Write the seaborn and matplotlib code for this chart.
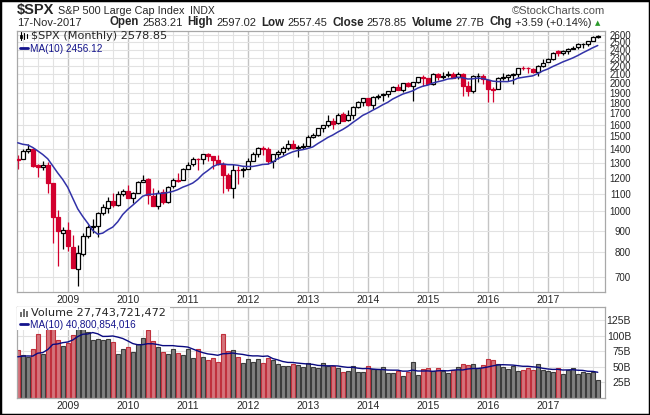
import numpy as np
import pandas as pd
import matplotlib
matplotlib.use("Agg")
import matplotlib.pyplot as plt
import seaborn as sns
from matplotlib.patches import Rectangle
from matplotlib.lines import Line2D
from matplotlib.ticker import NullLocator, NullFormatter

sns.set_style("white")
plt.rcParams['font.family'] = ['Liberation Sans', 'DejaVu Sans']

# ### Monthly $SPX bars, Mar 2008 .. Nov 2017
months = pd.date_range("2008-03-01", "2017-11-01", freq="MS")

opens = [1330.45, 1326.41, 1385.97, 1399.62, 1282.35, 1269.42, 1287.83, 1164.17, 968.67, 888.61,
         902.99, 823.09, 729.57, 793.59, 872.74, 923.26, 920.82, 990.22, 1019.52, 1054.91, 1036.18, 1098.89,
         1116.56, 1073.89, 1105.36, 1171.23, 1188.58, 1087.30, 1031.10, 1107.53, 1049.72, 1143.49, 1185.71, 1186.60,
         1257.62, 1289.14, 1328.64, 1329.48, 1365.21, 1345.20, 1320.64, 1292.59, 1219.12, 1131.21, 1251.00, 1246.91,
         1258.86, 1312.45, 1365.90, 1408.47, 1397.86, 1309.87, 1362.33, 1379.32, 1406.54, 1440.90, 1412.20, 1416.34,
         1426.19, 1497.86, 1514.68, 1569.18, 1597.55, 1631.71, 1609.78, 1689.42, 1635.95, 1682.41, 1758.70, 1806.55,
         1845.86, 1782.68, 1857.68, 1873.96, 1884.39, 1923.87, 1962.29, 1929.80, 2004.07, 1971.44, 2018.21, 2065.78,
         2058.90, 1996.67, 2105.23, 2067.63, 2087.38, 2108.64, 2065.78, 2104.49, 1970.09, 1919.65, 2080.76, 2082.93,
         2038.20, 1936.94, 1937.09, 2060.23, 2067.17, 2093.94, 2099.34, 2173.15, 2171.33, 2164.33, 2128.68, 2200.17,
         2251.57, 2285.59, 2380.13, 2362.34, 2388.50, 2415.65, 2431.39, 2477.10, 2474.42, 2521.20, 2583.21]
highs = [1359.68, 1404.57, 1440.24, 1404.05, 1292.20, 1313.15, 1303.04, 1167.03, 1007.51, 918.85,
         943.85, 877.86, 832.98, 888.70, 930.17, 956.23, 996.68, 1039.47, 1080.15, 1101.36, 1113.69, 1130.38,
         1150.45, 1112.42, 1180.16, 1219.80, 1200.26, 1131.23, 1120.95, 1129.24, 1148.90, 1196.14, 1227.08, 1262.60,
         1302.67, 1344.07, 1332.28, 1366.71, 1370.58, 1345.20, 1356.48, 1307.38, 1229.29, 1292.66, 1277.55, 1269.37,
         1333.47, 1378.04, 1419.15, 1422.38, 1415.32, 1363.46, 1391.74, 1426.68, 1474.51, 1470.96, 1434.27, 1448.00,
         1509.94, 1530.94, 1570.28, 1597.57, 1687.18, 1654.19, 1698.78, 1709.67, 1729.86, 1765.67, 1813.55, 1849.44,
         1850.84, 1867.92, 1883.97, 1897.28, 1924.03, 1968.17, 1991.39, 2005.04, 2019.26, 2018.19, 2075.76, 2093.55,
         2064.43, 2119.59, 2117.52, 2125.92, 2134.72, 2129.87, 2132.82, 2112.66, 2020.86, 2094.32, 2116.48, 2104.27,
         2038.20, 1962.96, 2072.21, 2111.05, 2103.48, 2120.55, 2177.09, 2193.81, 2187.87, 2169.60, 2214.10, 2277.53,
         2300.99, 2371.54, 2400.98, 2398.16, 2418.71, 2453.82, 2484.04, 2490.87, 2519.44, 2582.98, 2597.02]
lows = [1256.98, 1324.35, 1373.07, 1272.00, 1200.44, 1247.45, 1106.39, 839.80, 741.02, 815.69,
        804.30, 734.52, 666.79, 783.32, 866.10, 888.86, 869.32, 978.51, 991.97, 1020.18, 1029.38, 1085.89,
        1071.59, 1044.50, 1105.24, 1170.69, 1040.78, 1028.33, 1010.91, 1039.70, 1047.39, 1131.87, 1173.00, 1186.60,
        1257.62, 1275.92, 1249.05, 1294.70, 1311.80, 1258.07, 1282.86, 1101.54, 1114.22, 1074.77, 1158.66, 1202.37,
        1258.86, 1312.45, 1340.03, 1357.38, 1291.98, 1266.74, 1325.41, 1354.65, 1396.56, 1403.28, 1343.35, 1398.11,
        1426.19, 1485.01, 1501.48, 1536.03, 1581.28, 1560.33, 1604.57, 1627.47, 1633.41, 1646.47, 1746.20, 1767.99,
        1770.45, 1737.92, 1834.44, 1814.36, 1859.79, 1915.98, 1930.67, 1904.78, 1964.04, 1820.66, 2001.01, 1972.56,
        1988.12, 1980.90, 2039.69, 2048.38, 2067.93, 2056.32, 2044.02, 1867.01, 1871.91, 1893.70, 2019.39, 1993.26,
        1812.29, 1810.10, 1937.09, 2033.80, 2025.91, 1991.68, 2074.02, 2147.58, 2119.12, 2114.72, 2083.79, 2187.44,
        2245.13, 2271.65, 2322.25, 2328.95, 2344.51, 2405.70, 2407.70, 2417.35, 2446.55, 2520.40, 2557.45]
closes = [1322.70, 1385.59, 1400.38, 1280.00, 1267.38, 1282.83, 1166.36, 968.75, 896.24, 903.25,
          825.88, 735.09, 797.87, 872.81, 919.14, 919.32, 987.48, 1020.62, 1057.08, 1036.19, 1095.63, 1115.10,
          1073.87, 1104.49, 1169.43, 1186.69, 1089.41, 1030.71, 1101.60, 1049.33, 1141.20, 1183.26, 1180.55, 1257.64,
          1286.12, 1327.22, 1325.83, 1363.61, 1345.20, 1320.64, 1292.28, 1218.89, 1131.42, 1253.30, 1246.96, 1257.60,
          1312.41, 1365.68, 1408.47, 1397.91, 1310.33, 1362.16, 1379.32, 1406.58, 1440.67, 1412.16, 1416.18, 1426.19,
          1498.11, 1514.68, 1569.19, 1597.57, 1630.74, 1606.28, 1685.73, 1632.97, 1681.55, 1756.54, 1805.81, 1848.36,
          1782.59, 1859.45, 1872.34, 1883.95, 1923.57, 1960.23, 1930.67, 2003.37, 1972.29, 2018.05, 2067.56, 2058.90,
          1994.99, 2104.50, 2067.89, 2085.51, 2107.39, 2063.11, 2103.84, 1972.18, 1920.03, 2079.36, 2080.41, 2043.94,
          1940.24, 1932.23, 2059.74, 2065.30, 2096.95, 2098.86, 2173.60, 2170.95, 2168.27, 2126.15, 2198.81, 2238.83,
          2278.87, 2363.64, 2362.72, 2384.20, 2411.80, 2423.41, 2470.30, 2471.65, 2519.36, 2575.26, 2578.85]
# volume in billions of shares
volumes = [76.6, 68.5, 64.8, 77.7, 102.0, 69.6, 115.0, 135.0, 92.7, 84.0,
           87.4, 100.5, 120.0, 116.0, 106.0, 92.7, 94.4, 92.7, 94.0, 90.0, 69.6, 77.7,
           81.0, 73.4, 86.0, 95.4, 109.0, 92.0, 81.0, 72.8, 69.6, 77.7, 71.2, 68.5,
           77.7, 64.0, 77.7, 64.7, 60.5, 63.2, 56.7, 101.9, 75.0, 76.6, 64.7, 55.0,
           61.5, 56.7, 61.5, 55.0, 63.2, 60.0, 53.5, 50.3, 50.3, 53.5, 51.9, 48.7,
           55.0, 48.7, 47.0, 55.0, 51.3, 51.3, 47.0, 40.6, 42.2, 50.3, 40.6, 40.6,
           50.3, 45.4, 45.4, 48.7, 39.0, 39.0, 42.2, 34.1, 41.7, 56.7, 35.7, 45.4,
           47.0, 42.2, 47.0, 42.2, 39.0, 43.8, 48.7, 53.5, 51.9, 53.5, 47.0, 51.9,
           61.5, 60.0, 53.5, 48.7, 45.4, 50.3, 42.2, 43.8, 47.0, 43.8, 53.5, 43.8,
           42.2, 41.5, 47.5, 38.5, 43.8, 47.5, 38.5, 41.0, 39.5, 42.0, 27.74]

# the nine months before Mar 2008, only needed to start the 10-month averages
prior_closes = [1503.35, 1455.27, 1473.99, 1526.75, 1549.38, 1481.14, 1468.36, 1378.55, 1330.63]
prior_volumes = [58, 62, 80, 55, 60, 66, 52, 84, 64]

price_ticks = list(range(700, 2700, 100))
vol_ticks = [25, 50, 75, 100, 125]
years = [str(y) for y in range(2009, 2018)]

RED = "#d2002e"
NAVY = "#14148c"
W, H = 650, 415

df = pd.DataFrame({"date": months, "open": opens, "high": highs, "low": lows,
                   "close": closes, "volume": volumes})
df["i"] = np.arange(len(df))
df["ma"] = pd.Series(prior_closes + closes).rolling(10).mean().iloc[9:].values
df["vma"] = pd.Series(prior_volumes + volumes).rolling(10).mean().iloc[9:].values
prev_close = pd.Series([prior_closes[-1]] + closes[:-1])
df["down"] = df["close"].values < prev_close.values

jan_idx = df.index[df["date"].dt.month == 1].tolist()
qtr_idx = df.index[df["date"].dt.month.isin([4, 7, 10])].tolist()


def rect(l, t, r, b):
    return [l / W, 1 - b / H, (r - l) / W, (b - t) / H]


fig = plt.figure(figsize=(6.5, 4.15), dpi=100)
ax = fig.add_axes(rect(17, 31, 605, 292))
axv = fig.add_axes(rect(17, 306.5, 605, 397.5))

for a in (ax, axv):
    a.set_xlim(-0.15, 117.45)
    for q in qtr_idx:
        a.axvline(q, color="#e2e2e2", lw=0.8, zorder=0)
    for j in jan_idx:
        a.axvline(j, color="#c4c4c4", lw=1.0, zorder=0)
    a.set_xticks(jan_idx, labels=years)
    a.set_xticks(df["i"], minor=True)
    a.tick_params(axis="x", which="major", length=0, pad=2.5, labelsize=7.5)
    a.tick_params(axis="x", which="minor", length=2.5, direction="in", color="#b0b0b0")
    a.yaxis.tick_right()
    for s in a.spines.values():
        s.set_color("#a8a8a8")
        s.set_linewidth(0.9)

# ### Price panel
ax.set_yscale("log")
ax.set_ylim(645, 2657)
ax.set_yticks(price_ticks, labels=[str(v) for v in price_ticks])
ax.yaxis.set_minor_locator(NullLocator())
ax.yaxis.set_minor_formatter(NullFormatter())
ax.tick_params(axis="y", length=0, pad=18.7, labelsize=7)
for lbl in ax.get_yticklabels():
    lbl.set_ha("right")
ax.grid(axis="y", color="#e2e2e2", lw=0.8)
ax.set_axisbelow(True)

line_col = np.where(df["down"], RED, "black")
ax.vlines(df["i"], df["low"], df["high"], colors=line_col, lw=0.9, zorder=2)
body_lo = np.minimum(df["open"], df["close"])
body_h = np.maximum(np.abs(df["close"] - df["open"]), df["close"] * 0.003)
hollow = df["close"] > df["open"]
face = np.where(hollow, "white", line_col)
ax.bar(df["i"], body_h, bottom=body_lo, width=0.72, color=face,
       edgecolor=line_col, linewidth=0.9, zorder=3)
sns.lineplot(x=df["i"], y=df["ma"], ax=ax, color="#3232a8", lw=1.1, zorder=4)
ax.set(xlabel="", ylabel="")

# ### Volume panel
axv.set_ylim(0, 147)
axv.set_yticks(vol_ticks, labels=[f"{v}B" for v in vol_ticks])
axv.tick_params(axis="y", length=0, pad=18.7, labelsize=7.5)
for lbl in axv.get_yticklabels():
    lbl.set_ha("right")
axv.grid(axis="y", color="#e2e2e2", lw=0.8)
axv.set_axisbelow(True)
vface = np.where(df["down"], "#d4737b", "#808080")
vedge = np.where(df["down"], "#c0303c", "#3c3c3c")
axv.bar(df["i"], df["volume"], width=0.86, color=vface, edgecolor=vedge,
        linewidth=0.8, zorder=2)
sns.lineplot(x=df["i"], y=df["vma"], ax=axv, color="#0a0a80", lw=1.0, zorder=4)
axv.set(xlabel="", ylabel="")
axv.add_patch(Rectangle((0, (397.5 - 330) / 91), 153 / 588, 1, transform=axv.transAxes,
                        facecolor="white", edgecolor="none", zorder=5))

# ### Legends
def ftext(x, y, s, **kw):
    return fig.text(x / W, 1 - y / H, s, va="center", ha="left", **kw)


def fline(x0, x1, y0, y1, **kw):
    fig.add_artist(Line2D([x0 / W, x1 / W], [1 - y0 / H, 1 - y1 / H],
                          transform=fig.transFigure, **kw))


for k, x in enumerate([21, 24, 27]):
    fline(x, x, 32 + k, 40 - k, color="black", lw=0.8)
fig.add_artist(Rectangle((20 / W, 1 - 38 / H), 2 / W, 3 / H, transform=fig.transFigure,
                         facecolor="white", edgecolor="black", lw=0.6))
ftext(31, 36, "$SPX (Monthly) 2578.85", fontsize=8.1, family=["DejaVu Sans"])
fline(20, 28, 48, 48, color=NAVY, lw=2)
ftext(30, 48.5, "MA(10) 2456.12", fontsize=7.2, color=NAVY)

for k, hgt in enumerate([5, 8, 6]):
    fig.add_artist(Rectangle(((20 + 3 * k) / W, 1 - 317 / H), 2 / W, hgt / H,
                             transform=fig.transFigure, facecolor="#707070",
                             edgecolor="none", zorder=6))
ftext(31, 313, "Volume 27,743,721,472", fontsize=8.1, family=["DejaVu Sans"], zorder=6)
fline(20, 28, 324, 324, color=NAVY, lw=2, zorder=6)
ftext(30, 324.5, "MA(10) 40,800,854,016", fontsize=7.2, color=NAVY, zorder=6)

# ### Header
renderer = fig.canvas.get_renderer()
t = ftext(17, 10, "$SPX", fontsize=10.5, fontweight="bold")
x = t.get_window_extent(renderer).x1 + 4
t = ftext(x, 10.5, "S&P 500 Large Cap Index", fontsize=7.8)
x = t.get_window_extent(renderer).x1 + 5
ftext(x, 10.5, "INDX", fontsize=7.5)
fig.text(605 / W, 1 - 11 / H, "\u00a9StockCharts.com", va="center", ha="right",
         fontsize=8, color="#505050")
ftext(17, 22.5, "17-Nov-2017", fontsize=8)

parts = [("Open", "bold"), ("2583.21", "normal"), ("High", "bold"), ("2597.02", "normal"),
         ("Low", "bold"), ("2557.45", "normal"), ("Close", "bold"), ("2578.85", "normal"),
         ("Volume", "bold"), ("27.7B", "normal"), ("Chg", "bold"), ("+3.59 (+0.14%)", "normal")]
x = 110
for k, (s, wgt) in enumerate(parts):
    t = ftext(x, 22.5, s, fontsize=8.3 if wgt == "bold" else 8, fontweight=wgt)
    x = t.get_window_extent(renderer).x1 + (3 if wgt == "bold" else 5)
ftext(x - 2, 23, "\u25b2", fontsize=5, color="#2a9a2a", family=["DejaVu Sans"])

fig.add_artist(Rectangle((0, 0), 1, 1, transform=fig.transFigure, fill=False,
                         edgecolor="black", lw=2.5))

fig.savefig("out.png", dpi=100)
